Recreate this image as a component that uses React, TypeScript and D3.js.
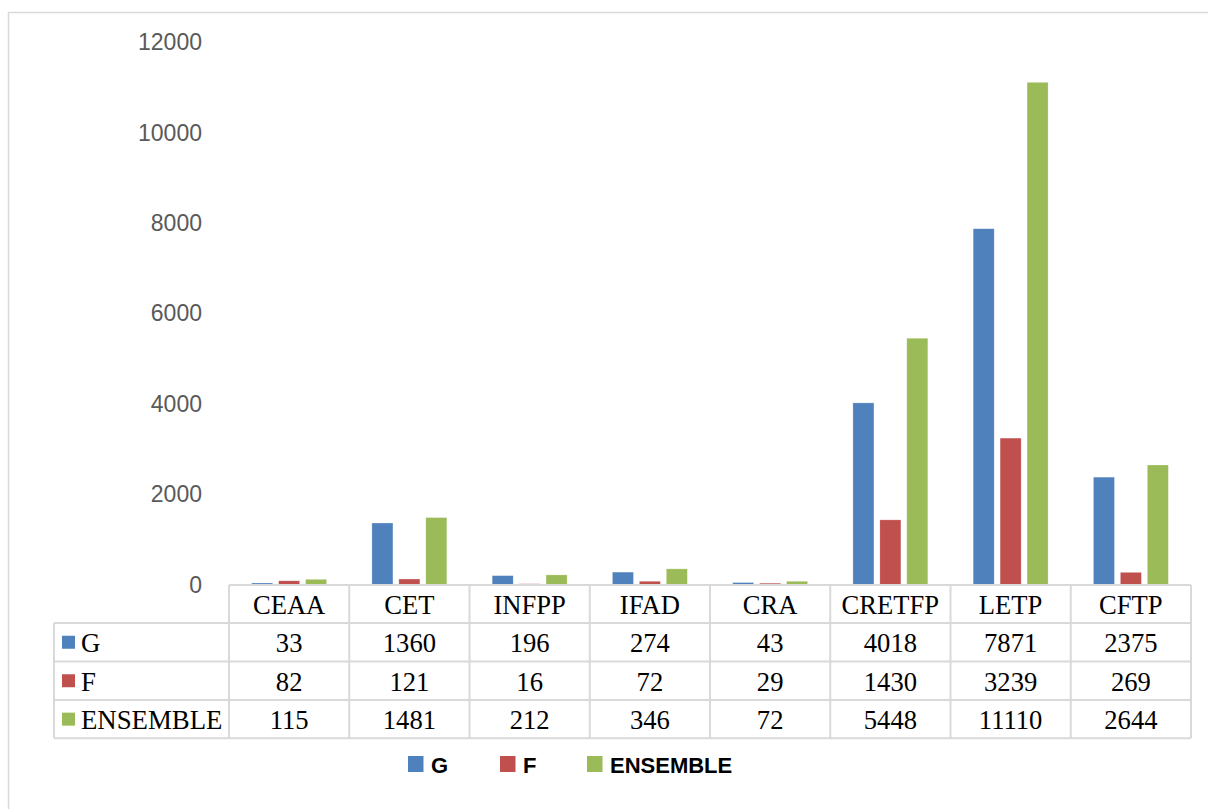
import React from "react";
import * as d3 from "d3";

const categories = ["CEAA", "CET", "INFPP", "IFAD", "CRA", "CRETFP", "LETP", "CFTP"];
const seriesNames = ["G", "F", "ENSEMBLE"];
const gValues = [33, 1360, 196, 274, 43, 4018, 7871, 2375];
const fValues = [82, 121, 16, 72, 29, 1430, 3239, 269];
const ensembleValues = [115, 1481, 212, 346, 72, 5448, 11110, 2644];
const yTicks = [0, 2000, 4000, 6000, 8000, 10000, 12000];
const colors = ["#4F81BD", "#C0504D", "#9BBB59"];

const W = 1208;
const H = 809;

export default function App() {
  const series = [gValues, fValues, ensembleValues];
  const tableLeft = 229;
  const tableRight = 1191;
  const labelLeft = 54;
  const baseline = 584.5;
  const top = 42.1;

  const x0 = d3.scaleBand<string>().domain(categories).range([tableLeft, tableRight]).paddingInner(0.377).paddingOuter(0.1885);
  const x1 = d3.scaleBand<string>().domain(seriesNames).range([0, x0.bandwidth()]).paddingInner(0.22).paddingOuter(0);
  const y = d3.scaleLinear().domain([0, 12000]).range([baseline, top]);

  const rowEdges = [585, 623, 661.5, 700, 738.3];
  const gridColor = "#d9d9d9";
  const serif = "'Liberation Serif', 'Times New Roman', serif";
  const sans = "'Liberation Sans', Arial, sans-serif";

  return (
    <svg width={W} height={H} style={{ position: "absolute", left: 0, top: 0 }}>
      <rect x={0} y={0} width={W} height={H} fill="#fff" />
      <rect x={8.5} y={12.5} width={W + 20} height={H + 20} fill="none" stroke={gridColor} strokeWidth={1.5} />
      {yTicks.map((t) => (
        <text key={t} x={202} y={y(t)} textAnchor="end" dominantBaseline="central" fontFamily={sans} fontSize={23} fill="#595959">
          {t}
        </text>
      ))}
      {categories.map((c, i) => (
        <g key={c}>
          {series.map((vals, s) => (
            <rect
              key={s}
              x={(x0(c) as number) + (x1(seriesNames[s]) as number)}
              y={y(vals[i])}
              width={x1.bandwidth()}
              height={baseline - y(vals[i])}
              fill={colors[s]}
              stroke="#ffffff"
              strokeOpacity={0.4}
              strokeWidth={0.6}
            />
          ))}
        </g>
      ))}
      <g stroke={gridColor} strokeWidth={2} fill="none">
        <line x1={tableLeft} x2={tableRight} y1={rowEdges[0]} y2={rowEdges[0]} />
        {rowEdges.slice(1).map((r, k) => (
          <line key={k} x1={labelLeft} x2={tableRight} y1={r} y2={r} />
        ))}
        <line x1={labelLeft} x2={labelLeft} y1={rowEdges[1]} y2={rowEdges[4]} />
        {d3.range(categories.length + 1).map((k) => {
          const xx = tableLeft + (k * (tableRight - tableLeft)) / categories.length;
          return <line key={k} x1={xx} x2={xx} y1={rowEdges[0]} y2={rowEdges[4]} />;
        })}
      </g>
      {categories.map((c, i) => {
        const cx = (x0(c) as number) + x0.bandwidth() / 2;
        return (
          <g key={c}>
            <text x={cx} y={(rowEdges[0] + rowEdges[1]) / 2 + 1} textAnchor="middle" dominantBaseline="central" fontFamily={serif} fontSize={26.6} fill="#000">
              {c}
            </text>
            {series.map((vals, s) => (
              <text key={s} x={cx} y={(rowEdges[s + 1] + rowEdges[s + 2]) / 2 + 1} textAnchor="middle" dominantBaseline="central" fontFamily={serif} fontSize={26.6} fill="#000">
                {vals[i]}
              </text>
            ))}
          </g>
        );
      })}
      {seriesNames.map((n, s) => {
        const cy = (rowEdges[s + 1] + rowEdges[s + 2]) / 2;
        return (
          <g key={n}>
            <rect x={62} y={cy - 6.5} width={13} height={13} fill={colors[s]} />
            <text x={81} y={cy + 1} dominantBaseline="central" fontFamily={serif} fontSize={26.8} fill="#000">
              {n}
            </text>
          </g>
        );
      })}
      {[408, 500, 587].map((lx, s) => (
        <g key={s}>
          <rect x={lx} y={756} width={15.5} height={16} fill={colors[s]} />
          <text x={lx + 23} y={765} dominantBaseline="central" fontFamily={sans} fontWeight="bold" fontSize={22} fill="#000">
            {seriesNames[s]}
          </text>
        </g>
      ))}
    </svg>
  );
}
